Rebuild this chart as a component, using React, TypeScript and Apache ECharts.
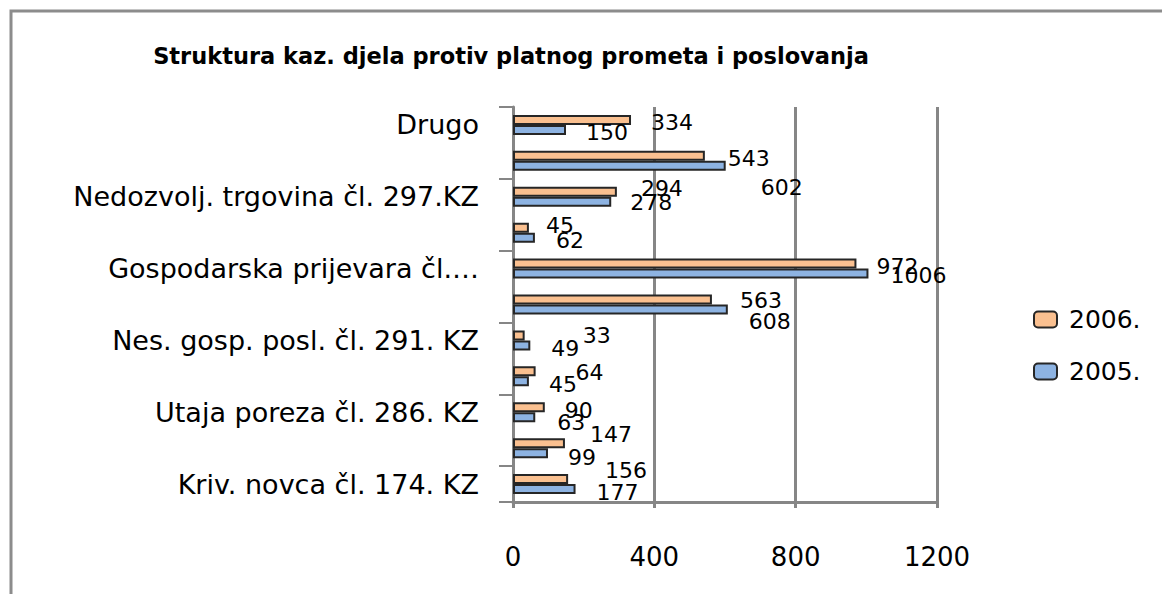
import React, { useEffect, useRef } from "react";
import * as echarts from "echarts";

const titleText = "Struktura kaz. djela protiv platnog prometa i poslovanja";
const categories = [
  "Drugo",
  "",
  "Nedozvolj. trgovina čl. 297.KZ",
  "",
  "Gospodarska prijevara čl.…",
  "",
  "Nes. gosp. posl. čl. 291. KZ",
  "",
  "Utaja poreza čl. 286. KZ",
  "",
  "Kriv. novca čl. 174. KZ",
];
const seriesNames = ["2006.", "2005."];
const values2006 = [334, 543, 294, 45, 972, 563, 33, 64, 90, 147, 156];
const values2005 = [150, 602, 278, 62, 1006, 608, 49, 45, 63, 99, 177];
const xTicks = [0, 400, 800, 1200];

// label nudges (pixels) to mimic the reference's data-label placement
const nudge2006 = [[0, 0], [3, 0], [4, -6], [-3, -5], [0, 0], [8, -2], [38, -3], [20, -2], [0, 0], [5, -12], [17, -12]];
const nudge2005 = [[0, 0], [15, 19], [-1, -2], [1, 0], [2, -1], [1, 9], [1, 0], [0, 0], [2, 2], [0, 1], [1, 0]];

const FONT = "DejaVu Sans";

export default function App() {
  const ref = useRef<HTMLDivElement>(null);
  useEffect(() => {
    if (!ref.current) return;
    const chart = echarts.init(ref.current, null, { renderer: "svg" });
    const labelStyle = {
      show: true,
      position: "right" as const,
      distance: 20,
      color: "#000",
      fontFamily: FONT,
      fontSize: 22,
    };
    const mk = (vals: number[], nudges: number[][]) =>
      vals.map((v, i) => ({
        value: v,
        label: { offset: [nudges[i][0], 3 + nudges[i][1]] },
      }));
    chart.setOption({
      animation: false,
      backgroundColor: "#fff",
      title: {
        text: titleText,
        left: 506,
        textAlign: "center",
        top: 39,
        textStyle: { fontFamily: FONT, fontWeight: "bold", fontSize: 22.5, color: "#000" },
      },
      legend: {
        orient: "vertical",
        left: 1028,
        top: 302,
        itemWidth: 23,
        itemHeight: 16,
        itemGap: 27,
        data: seriesNames,
        textStyle: { fontFamily: FONT, fontSize: 25, color: "#000", padding: [0, 0, 0, 7] },
        itemStyle: { borderColor: "#262626", borderWidth: 2 },
      },
      grid: { left: 513, right: 225, top: 107, bottom: 92 },
      xAxis: {
        type: "value",
        min: xTicks[0],
        max: xTicks[xTicks.length - 1],
        interval: 400,
        axisLine: { show: true, lineStyle: { color: "#868686", width: 3 } },
        axisTick: { show: true, length: 6, lineStyle: { color: "#868686", width: 3 } },
        splitLine: { show: true, lineStyle: { color: "#868686", width: 3 } },
        axisLabel: {
          margin: 42,
          fontFamily: FONT,
          fontSize: 26,
          color: "#000",
          formatter: (v: number) => String(v),
        },
      },
      yAxis: {
        type: "category",
        inverse: true,
        data: categories,
        axisLine: { show: true, lineStyle: { color: "#868686", width: 3 } },
        axisTick: { show: true, length: 14, lineStyle: { color: "#868686", width: 2 } },
        axisLabel: { interval: 1, margin: 34, fontFamily: FONT, fontSize: 27, color: "#000" },
      },
      series: [
        {
          name: seriesNames[0],
          type: "bar",
          data: mk(values2006, nudge2006),
          barWidth: 10,
          barGap: "0%",
          itemStyle: { color: "#FAC090", borderColor: "#262626", borderWidth: 2 },
          label: labelStyle,
        },
        {
          name: seriesNames[1],
          type: "bar",
          data: mk(values2005, nudge2005),
          barWidth: 10,
          barGap: "0%",
          itemStyle: { color: "#8DB3E2", borderColor: "#262626", borderWidth: 2 },
          label: labelStyle,
        },
      ],
      graphic: [
        {
          type: "polyline",
          shape: { points: [[11, 600], [11, 11], [1170, 11]] },
          style: { stroke: "#8c8c8c", lineWidth: 3, fill: "none" },
        },
      ],
    });
    return () => chart.dispose();
  }, []);
  return (
    <div
      ref={ref}
      style={{ position: "fixed", left: 0, top: 0, width: 1162, height: 594 }}
    />
  );
}
